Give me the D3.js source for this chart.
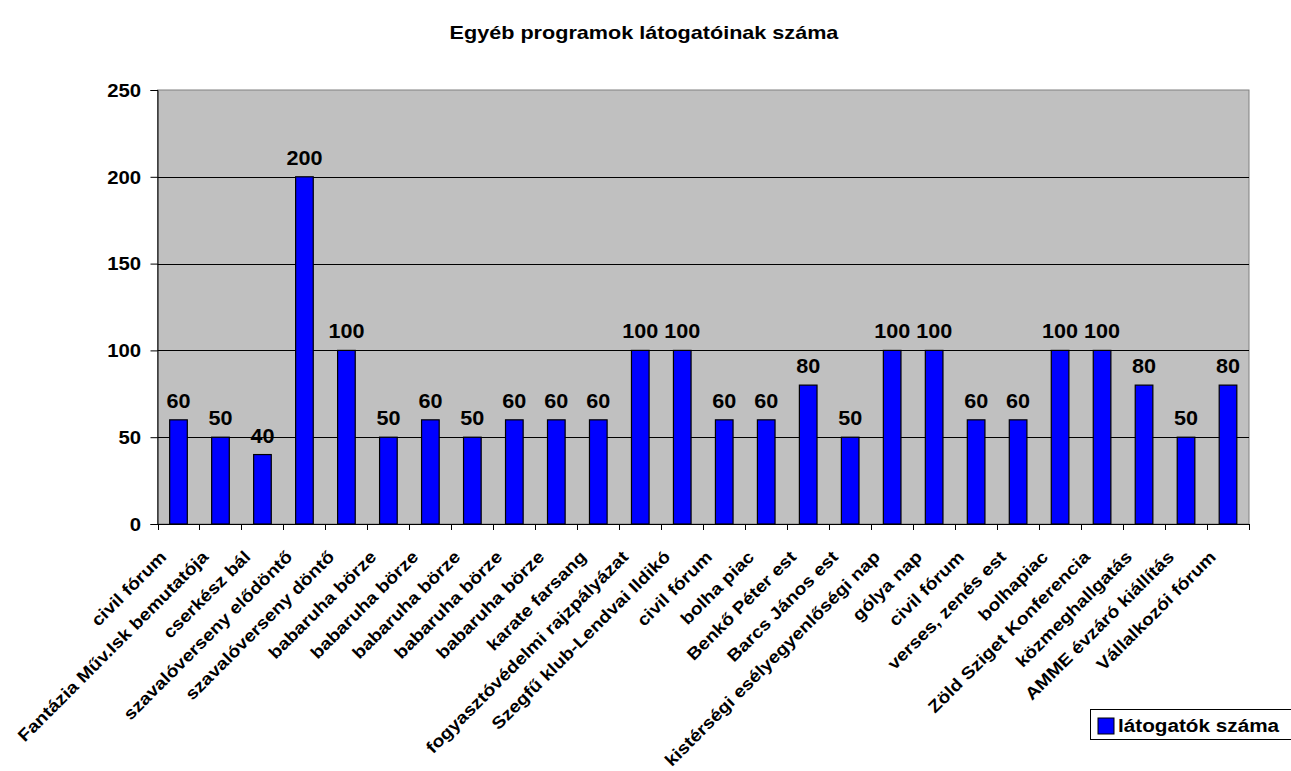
<!DOCTYPE html>
<html>
<head>
<meta charset="utf-8">
<script src="https://cdn.jsdelivr.net/npm/d3@7"></script>
<style>
  html, body { margin: 0; padding: 0; background: #fff; }
  text { font-family: "Liberation Sans", Arial, sans-serif; font-weight: bold; fill: #000; }
</style>
</head>
<body>
<svg id="chart" width="1291" height="771"></svg>
<script>
const title = "Egyéb programok látogatóinak száma";
const categories = [
  "civil fórum", "Fantázia Műv.Isk bemutatója", "cserkész bál", "szavalóverseny elődöntő",
  "szavalóverseny döntő", "babaruha börze", "babaruha börze", "babaruha börze",
  "babaruha börze", "babaruha börze", "karate farsang", "fogyasztóvédelmi rajzpályázat",
  "Szegfű klub-Lendvai Ildikó", "civil fórum", "bolha piac", "Benkő Péter est",
  "Barcs János est", "kistérségi esélyegyenlőségi nap", "gólya nap", "civil fórum",
  "verses, zenés est", "bolhapiac", "Zöld Sziget Konferencia", "közmeghallgatás",
  "AMME évzáró kiállítás", "Vállalkozói fórum"
];
const values = [60, 50, 40, 200, 100, 50, 60, 50, 60, 60, 60, 100, 100, 60, 60, 80, 50, 100, 100, 60, 60, 100, 100, 80, 50, 80];
const yTicks = [0, 50, 100, 150, 200, 250];
const seriesName = "látogatók száma";

const svg = d3.select("#chart");
const plot = { left: 157.5, top: 90, right: 1249, bottom: 524 };

const x = d3.scaleBand().domain(d3.range(categories.length))
  .range([plot.left, plot.right]).paddingInner(0.58).paddingOuter(0.29);
const xb = d3.scaleBand().domain(d3.range(categories.length))
  .range([plot.left, plot.right]);
const y = d3.scaleLinear().domain([0, 250]).range([plot.bottom, plot.top]);

// title
svg.append("text").attr("x", 644).attr("y", 39).attr("text-anchor", "middle")
  .style("font-size", "18px").attr("transform", "translate(644,0) scale(1.2,1) translate(-644,0)")
  .text(title);

// plot background
svg.append("rect").attr("x", plot.left).attr("y", plot.top)
  .attr("width", plot.right - plot.left).attr("height", plot.bottom - plot.top)
  .attr("fill", "#c0c0c0").attr("stroke", "#808080").attr("stroke-width", 1);

// gridlines
svg.append("g").selectAll("line").data(yTicks.filter(d => d > 0 && d < 250)).join("line")
  .attr("x1", plot.left).attr("x2", plot.right)
  .attr("y1", d => Math.round(y(d)) + 0.5).attr("y2", d => Math.round(y(d)) + 0.5)
  .attr("stroke", "#000").attr("stroke-width", 1);

// bars
svg.append("g").selectAll("rect").data(values).join("rect")
  .attr("x", (d, i) => x(i)).attr("y", d => y(d))
  .attr("width", x.bandwidth()).attr("height", d => y(0) - y(d))
  .attr("fill", "#0000ff").attr("stroke", "#000").attr("stroke-width", 1.2);

// value labels
svg.append("g").selectAll("text").data(values).join("text")
  .attr("transform", (d, i) => `translate(${x(i) + x.bandwidth() / 2},${y(d) - 12}) scale(1.08,1)`)
  .attr("text-anchor", "middle").style("font-size", "20px").text(d => d);

// y axis
const yAxis = svg.append("g").attr("transform", `translate(${plot.left},0)`)
  .call(d3.axisLeft(y).tickValues(yTicks).tickSize(7).tickPadding(8));
yAxis.selectAll("text").style("font-size", "18px").attr("dy", "0.35em")
  .attr("x", -14.5).attr("transform", "scale(1.13,1)");
yAxis.select(".domain").attr("stroke", "#000");
yAxis.selectAll(".tick line").attr("stroke", "#000");

// x axis
const xAxis = svg.append("g").attr("transform", `translate(0,${plot.bottom})`);
xAxis.append("line").attr("x1", plot.left).attr("x2", plot.right)
  .attr("y1", 0.5).attr("y2", 0.5).attr("stroke", "#000");
xAxis.selectAll("line.tk").data(d3.range(categories.length + 1)).join("line")
  .attr("class", "tk")
  .attr("x1", i => Math.round(plot.left + i * xb.step()) + 0.5)
  .attr("x2", i => Math.round(plot.left + i * xb.step()) + 0.5)
  .attr("y1", 0).attr("y2", 6).attr("stroke", "#000");
xAxis.selectAll("text").data(categories).join("text")
  .attr("transform", (d, i) => `translate(${xb(i) + xb.bandwidth() / 2 - 11},${34}) rotate(-45) scale(1.14,1)`)
  .attr("text-anchor", "end")
  .style("font-size", "17px").text(d => d);

// legend
const lg = svg.append("g").attr("transform", "translate(1090,709)");
lg.append("rect").attr("x", 0.5).attr("y", 0.5).attr("width", 215).attr("height", 30)
  .attr("fill", "#fff").attr("stroke", "#000");
lg.append("rect").attr("x", 8).attr("y", 9).attr("width", 16).attr("height", 16)
  .attr("fill", "#0000ff").attr("stroke", "#000");
lg.append("text").attr("transform", "translate(28,23) scale(1.12,1)")
  .style("font-size", "18.5px").text(seriesName);
</script>
</body>
</html>
